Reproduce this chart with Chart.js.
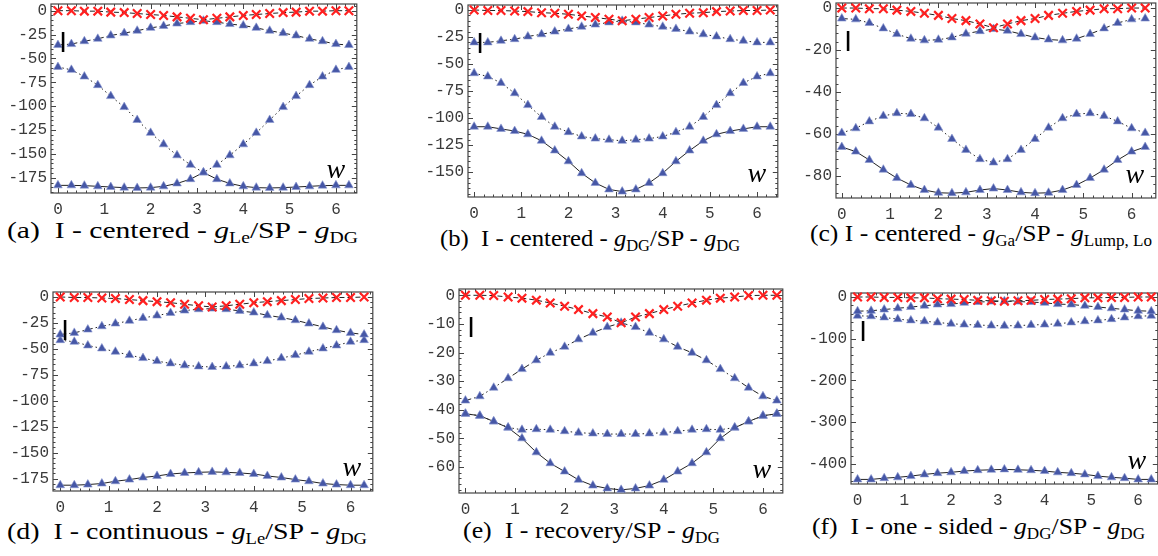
<!DOCTYPE html>
<html>
<head>
<meta charset="utf-8">
<script src="https://cdn.jsdelivr.net/npm/chart.js@4.4.1/dist/chart.umd.min.js"></script>
<style>
  html, body { margin: 0; padding: 0; background: #fff; }
  body { width: 1158px; height: 556px; position: relative; overflow: hidden; }
  .pane { position: absolute; }
  .cap { position: absolute; font-family: 'Liberation Serif', 'Times New Roman', serif; font-size: 24px;
         line-height: 24px; white-space: nowrap; color: #000; transform-origin: 0 0; }
  .cap sub { font-size: 16px; vertical-align: -5px; line-height: 0; }
</style>
</head>
<body>

<div class="cap" data-w="351" style="left:7px;top:218px">(a)&nbsp; I - centered - <i>g</i><sub>Le</sub>/SP - <i>g</i><sub>DG</sub></div>
<div class="cap" data-w="300" style="left:440px;top:226px">(b)&nbsp; I - centered - <i>g</i><sub>DG</sub>/SP - <i>g</i><sub>DG</sub></div>
<div class="cap" data-w="342" style="left:810px;top:221px">(c) I - centered - <i>g</i><sub>Ga</sub>/SP - <i>g</i><sub>Lump, Lo</sub></div>
<div class="cap" data-w="360" style="left:7px;top:519px">(d)&nbsp; I - continuous - <i>g</i><sub>Le</sub>/SP - <i>g</i><sub>DG</sub></div>
<div class="cap" data-w="257" style="left:463px;top:518px">(e)&nbsp; I - recovery/SP - <i>g</i><sub>DG</sub></div>
<div class="cap" data-w="333" style="left:812px;top:514px">(f)&nbsp; I - one - sided - <i>g</i><sub>DG</sub>/SP - <i>g</i><sub>DG</sub></div>

<script>
// ---------------- data ----------------
const wVals  = [0, 0.29, 0.57, 0.86, 1.14, 1.43, 1.71, 2.0, 2.28, 2.57, 2.86, 3.14,
                3.43, 3.71, 4.0, 4.28, 4.57, 4.86, 5.14, 5.43, 5.71, 6.0, 6.28];
const xTicks = [0, 1, 2, 3, 4, 5, 6];

// (a) I-centered - gLe / SP - gDG
const redA   = [0, 0, -0.5, -0.5, -1.5, -2, -3, -4, -5, -6.5, -8, -9.5, -8, -6.5, -5, -4, -3, -2, -1.5, -0.5, -0.5, 0, 0];
const dashA  = [-36, -35, -32, -29.5, -26, -23.5, -21, -18, -16, -13.5, -12, -10.5, -12, -14, -15.5, -18, -21, -23.5, -26, -29.5, -32, -35, -36];
const dotA   = [-59, -62, -69, -78, -89.5, -101, -114.5, -128, -140, -151.5, -161.5, -169.5, -161.5, -151.5, -140, -128, -114.5, -101, -89.5, -78, -69, -62, -59];
const solidA = [-183, -183, -183.3, -184, -184.7, -185.4, -185.7, -185.4, -184, -181, -176.5, -169.5, -176.5, -181, -184, -185.4, -185.7, -185.4, -184.7, -184, -183.3, -183, -183];
const yTicksA = [0, -25, -50, -75, -100, -125, -150, -175];

// (b) I-centered - gDG / SP - gDG
const redB   = [0, -0.5, -0.5, -1, -1.5, -2.5, -3, -4, -5.5, -7, -8.5, -10, -8.5, -7, -5.5, -4, -3, -2.5, -1.5, -1, -0.5, -0.5, 0];
const dashB  = [-30, -30, -28.5, -27, -24.5, -22.5, -20, -17.5, -15.5, -13.5, -11.5, -10, -11.5, -13.5, -15.5, -17.5, -20, -22.5, -24.5, -27, -28.5, -30, -30];
const dotB   = [-58.5, -61.5, -67.5, -77, -88, -99, -108, -113, -117, -119, -120, -121, -120, -119, -117, -113, -108, -99, -88, -77, -67.5, -61.5, -58.5];
const solidB = [-108, -108, -110, -112, -115, -121, -130, -140, -151, -160, -166, -168, -166, -160, -151, -140, -130, -121, -115, -112, -110, -108, -108];
const yTicksB = [0, -25, -50, -75, -100, -125, -150];

// (c) I-centered - gGa / SP - gLump,Lo
const redC   = [0, 0, -0.3, -0.3, -1, -1.6, -2.5, -3.5, -5, -6, -7.6, -9.4, -7.6, -6, -5, -3.5, -2.5, -1.6, -1, -0.3, -0.3, 0, 0];
const dashC  = [-5, -5.4, -7.1, -9.7, -12.4, -14.6, -15.4, -15.1, -14, -12.2, -11, -10, -10.8, -12.4, -14, -15, -15.4, -14.6, -12.4, -9.7, -7.1, -5.4, -5];
const dotC   = [-59.5, -57.3, -54, -51.4, -50.1, -50.5, -52.5, -57, -62.4, -67.6, -72, -73.6, -72, -67.6, -62.4, -57, -52.5, -50.5, -50.1, -51.4, -54, -57.3, -59.5];
const solidC = [-66.2, -68.4, -72.4, -77, -81, -84.3, -86.7, -88, -88.2, -87.8, -86.7, -86, -86.7, -87.8, -88.2, -88, -86.7, -84.3, -81, -77, -72.4, -68.4, -66.2];
const yTicksC = [0, -20, -40, -60, -80];

// (d) I-continuous - gLe / SP - gDG
const redD   = [0, -0.5, -0.5, -1, -1.5, -2.5, -3.5, -4.5, -5.5, -7, -8.5, -9.6, -8.5, -7, -5.5, -4.5, -3.5, -2.5, -1.5, -1, -0.5, -0.5, 0];
const dashD  = [-36.2, -34.6, -31.4, -28.2, -25.6, -23, -20.2, -17.9, -15.4, -13.1, -11.8, -11.2, -11.8, -13.4, -15, -17.6, -19.8, -22.4, -25.6, -28.8, -32, -34.6, -36.2];
const dotD   = [-41.6, -43.2, -46.7, -49.6, -52.8, -56, -58.9, -61.8, -64, -65.9, -66.9, -67.5, -66.9, -65.9, -64, -61.8, -58.9, -56, -52.8, -49.6, -46.7, -43.2, -41.6];
const solidD = [-181.4, -181.4, -180.8, -179.8, -177.6, -176, -174, -172.5, -170.6, -169.6, -169, -168.6, -169, -169.6, -170.6, -172.5, -174, -176, -177.6, -179.8, -180.8, -181.4, -181.4];
const yTicksD = [0, -25, -50, -75, -100, -125, -150, -175];

// (e) I-recovery / SP - gDG
const redE   = [0, 0, -0.1, -0.6, -1, -1.7, -2.7, -3.8, -5, -6.4, -7.6, -9.6, -7.6, -6.4, -5, -3.8, -2.7, -1.7, -1, -0.6, -0.1, 0, 0];
const dashE  = [-36.8, -35.3, -32.3, -29, -25.8, -22.7, -20.1, -18, -15.4, -13.1, -11.1, -9.6, -11.1, -13.1, -15.4, -18, -20.1, -22.7, -25.8, -29, -32.3, -35.3, -36.8];
const dotE   = [-41.4, -42.1, -44.1, -46.2, -47, -46.8, -47, -47.5, -48, -48.3, -48.5, -48.5, -48.5, -48.3, -48, -47.5, -47, -46.8, -47, -46.2, -44.1, -42.1, -41.4];
const solidE = [-41.4, -42.1, -44.1, -46.3, -50, -54.9, -58.7, -61.6, -64.5, -66.5, -67.5, -68, -67.5, -66.5, -64.5, -61.6, -58.7, -54.9, -50, -46.3, -44.1, -42.1, -41.4];
const yTicksE = [0, -10, -20, -30, -40, -50, -60];

// (f) I-one-sided - gDG / SP - gDG
const redF   = [0, 0, -1, -1, -2, -2, -4, -5, -6, -8, -9, -10, -9, -8, -6, -5, -4, -2, -2, -1, -1, 0, 0];
const dashF  = [-34, -33, -30, -27, -24, -21, -18, -17, -14, -12, -11, -10, -11, -12, -14, -17, -18, -21, -24, -27, -30, -33, -34];
const dotF   = [-45, -46, -49, -53, -56, -58, -61, -64, -66, -67, -68.5, -69, -68.5, -67, -66, -64, -61, -58, -56, -53, -49, -46, -45];
const solidF = [-437, -437, -434, -432, -429, -425, -422, -420, -417, -415, -414, -413, -414, -415, -417, -420, -422, -425, -429, -432, -434, -437, -437];
const yTicksF = [0, -100, -200, -300, -400];

// ---------------- layout of the six panels ----------------
// box = plot frame [left, top, right, bottom] in page pixels
const panels = [
  { box: [51, 4, 357, 193],    xr: [-0.15, 6.45], yr: [-191, 7],    yt: yTicksA, minor: 5,  s: [redA, dashA, dotA, solidA] },
  { box: [468, 5, 778, 197],   xr: [-0.13, 6.44], yr: [-173, 4.6],  yt: yTicksB, minor: 5,  s: [redB, dashB, dotB, solidB] },
  { box: [836, 3, 1156, 198],  xr: [-0.12, 6.5],  yr: [-90.5, 2.4], yt: yTicksC, minor: 4,  s: [redC, dashC, dotC, solidC] },
  { box: [53, 292, 373, 491],  xr: [-0.15, 6.46], yr: [-187, 4.8],  yt: yTicksD, minor: 5,  s: [redD, dashD, dotD, solidD] },
  { box: [459, 289, 783, 493], xr: [-0.13, 6.4],  yr: [-69.1, 2.2], yt: yTicksE, minor: 2,  s: [redE, dashE, dotE, solidE] },
  { box: [851, 293, 1158, 484],xr: [-0.14, 6.42], yr: [-448, 9.6],  yt: yTicksF, minor: 20, s: [redF, dashF, dotF, solidF] }
];

Chart.defaults.font.family = "'Liberation Mono', 'Courier New', monospace";
Chart.defaults.font.size = 16;
Chart.defaults.color = '#3a3a3a';

const TRI = '#4657a6';

// frame with inward major/minor ticks, plus the "I" and "w" labels
const framePlugin = {
  id: 'frame',
  beforeDatasetsDraw(chart, args, opts) {
    const { ctx, chartArea: a, scales: { x, y } } = chart;
    ctx.save();
    ctx.strokeStyle = '#444';
    ctx.lineWidth = 1.2;
    ctx.strokeRect(a.left, a.top, a.width, a.height);
    ctx.lineWidth = 1;
    ctx.beginPath();
    for (let v = Math.ceil(x.min / 0.2) * 0.2; v <= x.max; v += 0.2) {
      const px = Math.round(x.getPixelForValue(v)) + 0.5;
      const major = Math.abs(v - Math.round(v)) < 1e-6;
      const len = major ? 5 : 2.5;
      ctx.moveTo(px, a.bottom); ctx.lineTo(px, a.bottom - len);
      ctx.moveTo(px, a.top); ctx.lineTo(px, a.top + len);
    }
    const step = opts.minor;
    const bigStep = step * 5;
    for (let v = Math.ceil(y.min / step) * step; v <= y.max; v += step) {
      const py = Math.round(y.getPixelForValue(v)) + 0.5;
      const major = Math.abs(v / bigStep - Math.round(v / bigStep)) < 1e-6;
      const len = major ? 5 : 2.5;
      ctx.moveTo(a.left, py); ctx.lineTo(a.left + len, py);
      ctx.moveTo(a.right, py); ctx.lineTo(a.right - len, py);
    }
    ctx.stroke();
    ctx.restore();
  },
  afterDraw(chart) {
    const { ctx, chartArea: a } = chart;
    ctx.save();
    ctx.fillStyle = '#000';
    ctx.textAlign = 'center';
    ctx.textBaseline = 'middle';
    ctx.font = "26px 'DejaVu Sans'";
    ctx.fillText('I', a.left + 12, a.top + 41);
    ctx.font = "italic 28px 'Liberation Serif'";
    ctx.fillText('w', a.right - 21, a.bottom - 22);
    ctx.restore();
  }
};

const yw = 50, xh = 30, pt = 14, pr = 8;

panels.forEach((p, idx) => {
  const [l, t, r, b] = p.box;
  const W = yw + (r - l) + pr, H = pt + (b - t) + xh;
  const div = document.createElement('div');
  div.className = 'pane';
  div.style.left = (l - yw) + 'px';
  div.style.top = (t - pt) + 'px';
  const canvas = document.createElement('canvas');
  canvas.width = W;
  canvas.height = H;
  div.appendChild(canvas);
  document.body.appendChild(div);

  const pts = arr => wVals.map((w, i) => ({ x: w, y: arr[i] }));
  const [red, dash, dot, solid] = p.s;
  const tri = { pointStyle: 'triangle', pointRadius: 5, pointBackgroundColor: TRI, pointBorderColor: '#8a97d0', pointBorderWidth: 0.6 };

  new Chart(canvas, {
    type: 'line',
    data: {
      datasets: [
        { data: pts(red), borderColor: '#222', borderWidth: 1, borderDash: [5, 3],
          pointStyle: 'crossRot', pointRadius: 6, pointBorderColor: '#ff2020', pointBorderWidth: 2.2 },
        Object.assign({ data: pts(dash), borderColor: '#222', borderWidth: 1, borderDash: [6, 3, 1.5, 3] }, tri),
        Object.assign({ data: pts(dot), borderColor: '#222', borderWidth: 1, borderDash: [1.5, 3] }, tri),
        Object.assign({ data: pts(solid), borderColor: '#222', borderWidth: 1 }, tri)
      ]
    },
    options: {
      responsive: false,
      animation: false,
      clip: 8,
      layout: { padding: { top: pt, right: pr, left: 0, bottom: 0 } },
      plugins: { legend: { display: false }, tooltip: { enabled: false }, frame: { minor: p.minor } },
      scales: {
        x: {
          type: 'linear', min: p.xr[0], max: p.xr[1],
          grid: { display: false, drawTicks: false }, border: { display: false },
          ticks: { padding: 7 },
          afterBuildTicks: s => { s.ticks = xTicks.map(v => ({ value: v })); },
          afterFit: s => { s.height = xh; }
        },
        y: {
          type: 'linear', min: p.yr[0], max: p.yr[1],
          grid: { display: false, drawTicks: false }, border: { display: false },
          ticks: { padding: 4 },
          afterBuildTicks: s => { s.ticks = p.yt.map(v => ({ value: v })); },
          afterFit: s => { s.width = yw; }
        }
      }
    },
    plugins: [framePlugin]
  });
});

// stretch each caption to the width it has in the figure
document.querySelectorAll('.cap').forEach(el => {
  const natural = el.getBoundingClientRect().width;
  el.style.transform = 'scaleX(' + (Number(el.dataset.w) / natural) + ')';
});
</script>
</body>
</html>
